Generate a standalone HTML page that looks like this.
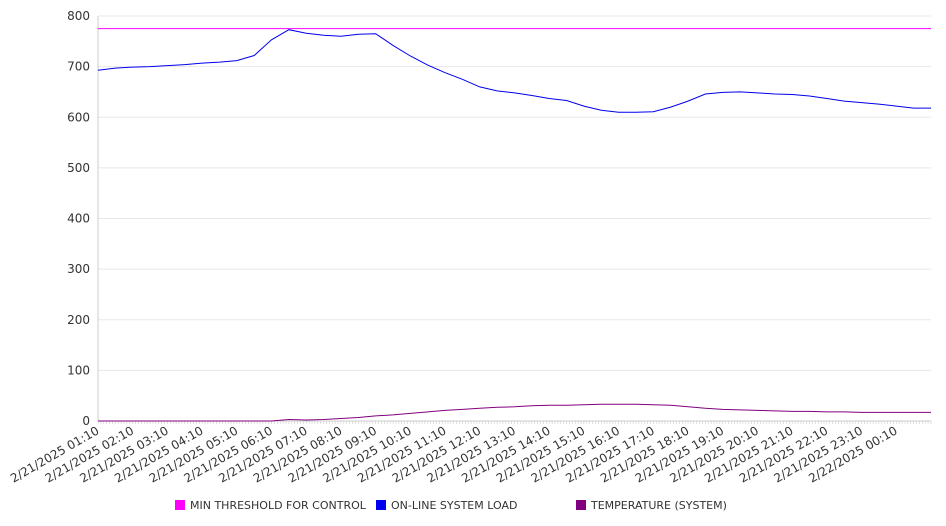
<!DOCTYPE html>
<html><head><meta charset="utf-8"><style>
html,body{margin:0;padding:0;background:#fff;}
svg{display:block;font-family:"DejaVu Sans","Liberation Sans",sans-serif;}
</style></head><body>
<svg id="chart" width="946" height="526" xmlns="http://www.w3.org/2000/svg">
<g id="grid"></g>
<g id="yaxis"></g>
<g id="xaxis"></g>
<g id="series"></g>
<g id="legend"></g>
</svg>
<script>
const yTicks=[0,100,200,300,400,500,600,700,800];
const xLabels=["2/21/2025 01:10","2/21/2025 02:10","2/21/2025 03:10","2/21/2025 04:10","2/21/2025 05:10","2/21/2025 06:10","2/21/2025 07:10","2/21/2025 08:10","2/21/2025 09:10","2/21/2025 10:10","2/21/2025 11:10","2/21/2025 12:10","2/21/2025 13:10","2/21/2025 14:10","2/21/2025 15:10","2/21/2025 16:10","2/21/2025 17:10","2/21/2025 18:10","2/21/2025 19:10","2/21/2025 20:10","2/21/2025 21:10","2/21/2025 22:10","2/21/2025 23:10","2/22/2025 00:10"];
const threshold=[775];
const loadValues=[693,697,699,700,702,704,707,709,712,722,753,773,766,762,760,764,765,742,721,703,688,675,660,652,648,643,637,633,622,614,610,610,611,620,632,646,649,650,648,646,645,642,637,632,629,626,622,618,618];
const tempValues=[0,0,0,0,0,0,0,0,0,0,0,3,2,3,5,7,10,12,15,18,21,23,25,27,28,30,31,31,32,33,33,33,32,31,28,25,23,22,21,20,19,19,18,18,17,17,17,17,17];
const legendNames=["MIN THRESHOLD FOR CONTROL","ON-LINE SYSTEM LOAD","TEMPERATURE (SYSTEM)"];
const legendColors=["#ff00ff","#0000ee","#800080"];

const NS="http://www.w3.org/2000/svg";
const L=98,R=931,T=16,B=421,YMAX=800;
const N=loadValues.length;
const yS=v=>B-(v/YMAX)*(B-T);
const xS=i=>L+(i/(N-1))*(R-L); // i in half-hour steps
function mk(tag,attrs,parent){const e=document.createElementNS(NS,tag);for(const k in attrs)e.setAttribute(k,attrs[k]);parent.appendChild(e);return e;}
const grid=document.getElementById('grid'),ya=document.getElementById('yaxis'),xa=document.getElementById('xaxis'),se=document.getElementById('series'),lg=document.getElementById('legend');
yTicks.forEach(v=>{
  const l=mk('line',{x1:L,x2:R,y1:yS(v),y2:yS(v),stroke:'#e8e8e8','stroke-width':1},grid);
  
  
  const t=mk('text',{x:90,y:yS(v)+4,'text-anchor':'end','font-size':12,fill:'#333'},ya);
  t.textContent=v;
  
  
});
mk('line',{x1:L,x2:L,y1:T,y2:B,stroke:'#ccc'},ya);
mk('line',{x1:L,x2:R,y1:B,y2:B,stroke:'#ccc'},xa);
// minor ticks every 5 min
const minorCount=(N-1)*6;
for(let k=0;k<=minorCount;k++){const x=L+k*(R-L)/minorCount;mk('line',{x1:x,x2:x,y1:B,y2:B+3,stroke:'#ccc','stroke-width':0.6},xa);}
xLabels.forEach((s,i)=>{
  const x=xS(i*2);
  const t=mk('text',{x:x+2,y:B+12,'text-anchor':'end','font-size':12,fill:'#333',transform:`rotate(-30 ${x+2} ${B+12})`},xa);
  t.textContent=s;
  
  
});
const thr=mk('line',{x1:L,x2:R,y1:yS(threshold[0]),y2:yS(threshold[0]),stroke:'#ff00ff','stroke-width':1},se);


function path(vals,col,name){
  const d=vals.map((v,i)=>(i?'L':'M')+xS(i).toFixed(1)+' '+yS(v).toFixed(1)).join(' ');
  const p=mk('path',{d:d,fill:'none',stroke:col,'stroke-width':1},se);
  
  
}
path(tempValues,'#800080','temperature-line');
path(loadValues,'#0000ee','system-load-line');
const lx=[175,376,576];
legendNames.forEach((n,i)=>{
  const g=mk('g',{},lg);
  
  
  mk('rect',{x:lx[i],y:500,width:10,height:10,fill:legendColors[i]},g);
  const t=mk('text',{x:lx[i]+15,y:509,'font-size':11,fill:'#333'},g);
  t.textContent=n;
});
</script>
</body></html>
